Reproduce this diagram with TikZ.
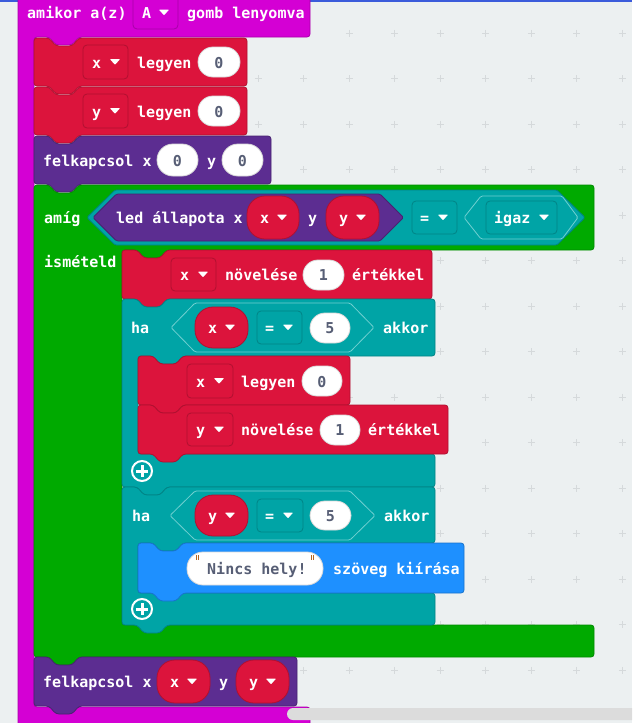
\documentclass[tikz,border=0pt]{standalone}
\usepackage{fontspec}
\setmonofont{DejaVu Sans Mono}
\definecolor{bg}{HTML}{ECF0F1}
\definecolor{gridc}{HTML}{D5D9DB}
\definecolor{topblue}{HTML}{3B5BDB}
\definecolor{mag}{HTML}{D400D4}
\definecolor{magd}{HTML}{A800A8}
\definecolor{vred}{HTML}{DC143C}
\definecolor{vredd}{HTML}{B01030}
\definecolor{led}{HTML}{5C2D91}
\definecolor{ledd}{HTML}{482370}
\definecolor{loop}{HTML}{00AA00}
\definecolor{loopd}{HTML}{008A00}
\definecolor{logic}{HTML}{00A4A6}
\definecolor{logicd}{HTML}{008486}
\definecolor{logicl}{HTML}{70D0D1}
\definecolor{basic}{HTML}{1E90FF}
\definecolor{basicd}{HTML}{1873CC}
\definecolor{numtxt}{HTML}{575E75}
\definecolor{pillline}{HTML}{D8D8D8}
\definecolor{quotec}{HTML}{B5651D}
\definecolor{scrollc}{HTML}{DCDCDC}
\newcommand\blk{\fontsize{15}{18}\selectfont\ttfamily\bfseries}
\tikzset{
  lbl/.style={anchor=base west, inner sep=0pt, text=white, font=\blk},
  numlbl/.style={anchor=base, inner sep=0pt, text=numtxt, font=\blk},
  blockline/.style={line width=0.8pt, rounded corners=3pt},
}
% statement block: L T R B fill stroke
\newcommand\stmtblock[6]{\filldraw[blockline, fill=#5, draw=#6] (#1,#2) -- ({#1+15},#2) -- ({#1+22},{#2+8}) -- ({#1+38},{#2+8}) -- ({#1+45},#2) -- (#3,#2) -- (#3,#4) -- ({#1+45},#4) -- ({#1+38},{#4+8}) -- ({#1+22},{#4+8}) -- ({#1+15},#4) -- (#1,#4) -- cycle;}
% C block: L T R H A BT B fill stroke
\newcommand\cblock[9]{\filldraw[blockline, fill=#8, draw=#9] (#1,#2) -- ({#1+15},#2) -- ({#1+22},{#2+8}) -- ({#1+38},{#2+8}) -- ({#1+45},#2) -- (#3,#2) -- (#3,#4) -- ({#5+45},#4) -- ({#5+38},{#4+8}) -- ({#5+22},{#4+8}) -- ({#5+15},#4) -- (#5,#4) -- (#5,#6) -- (#3,#6) -- (#3,#7) -- ({#1+45},#7) -- ({#1+38},{#7+8}) -- ({#1+22},{#7+8}) -- ({#1+15},#7) -- (#1,#7) -- cycle;}
% hexagon: tipL vL vR tipR top bottom fill stroke
\newcommand\hexa[8]{\filldraw[line width=0.8pt, fill=#7, draw=#8, rounded corners=1.5pt] (#1,{(#5+#6)/2}) -- (#2,#5) -- (#3,#5) -- (#4,{(#5+#6)/2}) -- (#3,#6) -- (#2,#6) -- cycle;}
% dropdown box: L T R B fill stroke
\newcommand\ddbox[6]{\filldraw[line width=0.8pt, fill=#5, draw=#6, rounded corners=4pt] (#1,#2) rectangle (#3,#4);}
% pill: L T R B radius fill stroke
\newcommand\pill[7]{\filldraw[line width=0.8pt, fill=#6, draw=#7, rounded corners=#5pt] (#1,#2) rectangle (#3,#4);}
% dropdown triangle: left x, centre y
\newcommand\tri[2]{\fill[white, rounded corners=0.6pt] (#1,{#2-2.8}) -- ({#1+10},{#2-2.8}) -- ({#1+5},{#2+2.8}) -- cycle;}
% plus icon
\newcommand\plusicon[2]{\draw[white, line width=2pt] (#1,#2) circle (10pt); \draw[white, line width=3pt] ({#1-6},#2) -- ({#1+6},#2) (#1,{#2-6}) -- (#1,{#2+6});}
\begin{document}
\begin{tikzpicture}[x=1pt,y=-1pt]
\useasboundingbox (0,0) rectangle (632,723);
\clip (0,0) rectangle (632,723);
\fill[bg] (0,0) rectangle (632,723);
% grid
\foreach \i in {0,...,13} \foreach \j in {0,...,15} {
  \draw[gridc, line width=1pt] ({30.5+45.5*\i-3.5},{33+45.5*\j}) -- ++(7,0) ({30.5+45.5*\i},{33+45.5*\j-3.5}) -- ++(0,7);
}
\fill[topblue] (0,0) rectangle (632,1.5);
% hat block
\filldraw[blockline, fill=mag, draw=magd] (18,-10) -- (310,-10) -- (310,37) -- (79,37) -- (72,45) -- (56,45) -- (49,37) -- (34,37) -- (34,707) -- (310,707) -- (310,740) -- (18,740) -- cycle;
\node[lbl] (hat1) at (27,18.5) {amikor a(z)};
\ddbox{133}{-5}{178}{29}{mag}{magd}
\node[lbl] (hatA) at (142,18.5) {A}; \tri{159}{12.5}
\node[lbl] (hat2) at (187,18.5) {gomb lenyomva};
% x legyen 0
\stmtblock{34}{38}{247}{86}{vred}{vredd}
\ddbox{83}{45}{128}{79}{vred}{vredd}
\node[lbl] (r1v) at (92,68) {x}; \tri{110}{62}
\node[lbl] (r1t) at (137,68) {legyen};
\pill{198}{47}{240}{77}{15}{white}{pillline}
\node[numlbl] (r1n) at (219,68) {0};
% y legyen 0
\stmtblock{34}{87}{247}{135}{vred}{vredd}
\ddbox{83}{94}{128}{128}{vred}{vredd}
\node[lbl] (r2v) at (92,117) {y}; \tri{110}{111}
\node[lbl] (r2t) at (137,117) {legyen};
\pill{198}{96}{240}{126}{15}{white}{pillline}
\node[numlbl] (r2n) at (219,117) {0};
% felkapcsol x 0 y 0
\stmtblock{34}{136}{271}{184}{led}{ledd}
\node[lbl] (p1t) at (43,166) {felkapcsol x};
\pill{157}{144}{198}{176}{16}{white}{pillline}
\node[numlbl] (p1n) at (177.5,166) {0};
\node[lbl] (p1y) at (207,166) {y};
\pill{222}{144}{263}{176}{16}{white}{pillline}
\node[numlbl] (p1m) at (242.5,166) {0};
% while loop
\cblock{34}{185}{594}{250}{122}{625}{657}{loop}{loopd}
\node[lbl] (w1) at (44,223.5) {amíg};
\hexa{87}{115}{557}{585}{190}{245}{logic}{logicd}
\hexa{93}{116.5}{380}{403.5}{194}{241}{led}{ledd}
\node[lbl] (w2) at (116,223.5) {led állapota x};
\pill{247}{196}{299}{239}{18}{vred}{vredd}
\node[lbl] (w3) at (260,223.5) {x}; \tri{277}{217.5}
\node[lbl] (w4) at (308,223.5) {y};
\pill{326}{196}{379}{239}{18}{vred}{vredd}
\node[lbl] (w5) at (339,223.5) {y}; \tri{356}{217.5}
\ddbox{412}{201}{457}{234}{logic}{logicd}
\node[lbl] (w6) at (420,223.5) {=}; \tri{438}{217.5}
\hexa{464}{481}{562}{578}{196}{239}{logic}{logicl}
\ddbox{486}{201}{557}{234}{logic}{logicd}
\node[lbl] (w7) at (494,223.5) {igaz}; \tri{539}{217.5}
\node[lbl] (w8) at (44,267) {ismételd};
% x növelése 1 értékkel
\stmtblock{122}{250}{432}{299}{vred}{vredd}
\ddbox{171}{258}{216}{291}{vred}{vredd}
\node[lbl] (n1v) at (180,280.5) {x}; \tri{198}{274.5}
\node[lbl] (n1t) at (225,280.5) {növelése};
\pill{303}{260}{344}{290}{15}{white}{pillline}
\node[numlbl] (n1n) at (323.5,280.5) {1};
\node[lbl] (n1e) at (352,280.5) {értékkel};
% if 1
\cblock{122}{299}{435}{356}{138}{454}{487}{logic}{logicd}
\node[lbl] (i1h) at (131,333.5) {ha};
\hexa{171}{195}{350}{374}{303}{352}{logic}{logicl}
\pill{195}{307}{248}{348}{18}{vred}{vredd}
\node[lbl] (i1v) at (208,333.5) {x}; \tri{225}{327.5}
\ddbox{257}{311}{302}{344}{logic}{logicd}
\node[lbl] (i1e) at (265,333.5) {=}; \tri{283}{327.5}
\pill{310}{313}{350}{343}{15}{white}{pillline}
\node[numlbl] (i1n) at (330,333.5) {5};
\node[lbl] (i1a) at (383,333.5) {akkor};
% x legyen 0 (inner)
\stmtblock{138}{356}{350}{405}{vred}{vredd}
\ddbox{187}{364}{233}{398}{vred}{vredd}
\node[lbl] (r3v) at (196,387) {x}; \tri{214}{381}
\node[lbl] (r3t) at (241,387) {legyen};
\pill{302}{366}{342}{396}{15}{white}{pillline}
\node[numlbl] (r3n) at (322,387) {0};
% y növelése 1 értékkel
\stmtblock{138}{405}{448}{454}{vred}{vredd}
\ddbox{187}{413}{233}{446}{vred}{vredd}
\node[lbl] (r4v) at (196,435.5) {y}; \tri{214}{429.5}
\node[lbl] (r4t) at (241,435.5) {növelése};
\pill{320}{415}{360}{445}{15}{white}{pillline}
\node[numlbl] (r4n) at (340,435.5) {1};
\node[lbl] (r4e) at (368,435.5) {értékkel};
\plusicon{142}{471}
% if 2
\cblock{122}{487}{435}{543}{138}{593}{625}{logic}{logicd}
\node[lbl] (i2h) at (132,521) {ha};
\hexa{170}{195}{350}{375}{491}{540}{logic}{logicl}
\pill{195}{495}{248}{536}{18}{vred}{vredd}
\node[lbl] (i2v) at (208,521) {y}; \tri{225}{515.5}
\ddbox{257}{499}{303}{532}{logic}{logicd}
\node[lbl] (i2e) at (265,521) {=}; \tri{283}{515.5}
\pill{310}{501}{351}{530}{15}{white}{pillline}
\node[numlbl] (i2n) at (330.5,521) {5};
\node[lbl] (i2a) at (384,521) {akkor};
% show string
\stmtblock{138}{543}{464}{593}{basic}{basicd}
\pill{187}{552}{323}{585}{16}{white}{pillline}
\draw[quotec, line width=0.9pt] (196,555) -- (196,560) (198.5,555) -- (198.5,560) (311,555) -- (311,560) (313.5,555) -- (313.5,560);
\node[lbl, text=numtxt] (s1) at (207,574) {Nincs hely!};
\node[lbl] (s2) at (333,574) {szöveg kiírása};
\plusicon{142}{609}
% felkapcsol x x y y
\stmtblock{34}{657}{297}{706}{led}{ledd}
\node[lbl] (p2t) at (43,687.5) {felkapcsol x};
\pill{157}{660}{210}{703}{18}{vred}{vredd}
\node[lbl] (p2v) at (170,687.5) {x}; \tri{187}{681.5}
\node[lbl] (p2y) at (219,687.5) {y};
\pill{236}{660}{289}{703}{18}{vred}{vredd}
\node[lbl] (p2w) at (249,687.5) {y}; \tri{266}{681.5}
% scrollbar
\fill[scrollc, rounded corners=6pt] (287,708) rectangle (660,720);
\end{tikzpicture}
\end{document}
